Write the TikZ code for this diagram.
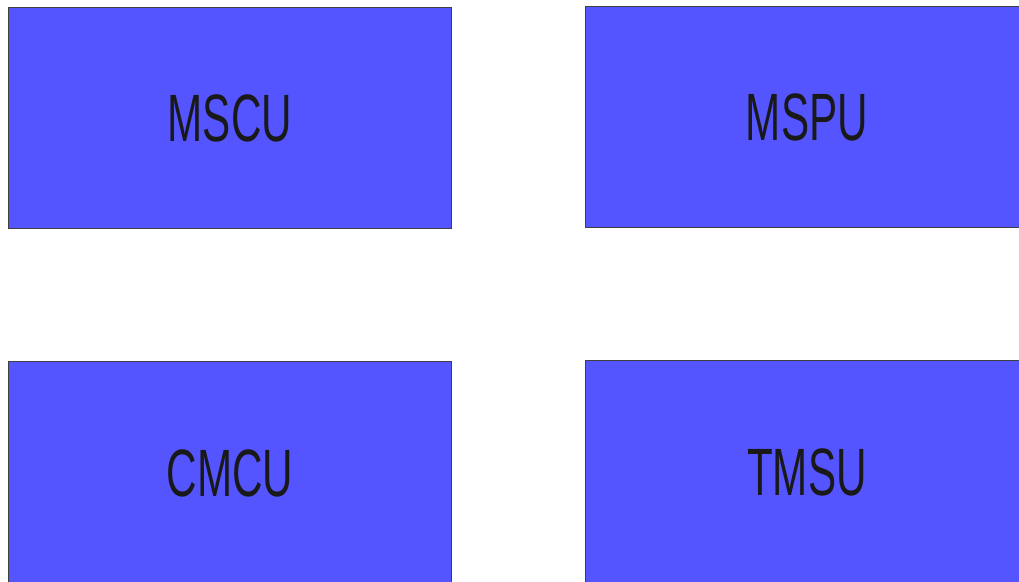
\documentclass[tikz,border=0pt]{standalone}
\usepackage{fontspec}
\setmainfont{Liberation Sans}
\usepackage{graphicx}
\definecolor{boxblue}{HTML}{5555FF}
\begin{document}
\begin{tikzpicture}[x=1pt,y=-1pt,
  unit/.style={draw=black!75,line width=0.9pt,fill=boxblue,minimum width=443pt,minimum height=221pt,inner sep=0pt,anchor=north west,
    font=\fontsize{67}{67}\selectfont,text=black!90}]
\useasboundingbox (0,0) rectangle (1019,581);
\begin{scope}
\clip (0,0) rectangle (1019,581);
\node[unit] (mscu) at (8,7) {\scalebox{0.63}[1]{MSCU}};
\node[unit] (mspu) at (585,6) {\scalebox{0.63}[1]{MSPU}};
\node[unit,minimum height=224pt] (cmcu) at (8,361) {\raisebox{1pt}{\scalebox{0.63}[1]{CMCU}}};
\node[unit,minimum height=224pt] (tmsu) at (585,360) {\raisebox{1pt}{\scalebox{0.63}[1]{TMSU}}};
\end{scope}
\end{tikzpicture}
\end{document}
